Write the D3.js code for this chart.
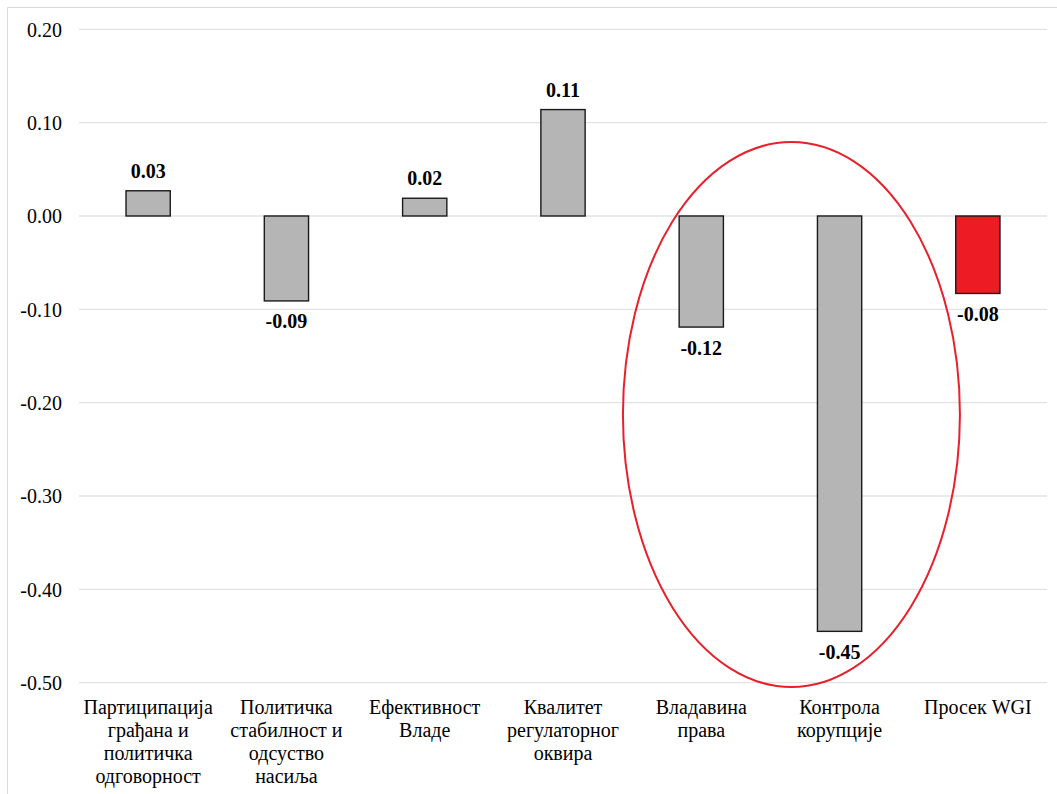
<!DOCTYPE html>
<html>
<head>
<meta charset="utf-8">
<script src="https://cdn.jsdelivr.net/npm/d3@7/dist/d3.min.js"></script>
<style>
  html, body { margin: 0; padding: 0; background: #fff; }
  svg { display: block; }
  text { font-family: "Liberation Serif", "Times New Roman", serif; fill: #000; }
</style>
</head>
<body>
<svg id="chart" width="1057" height="794"></svg>
<script>
// WGI indicator scores
const categories = [
  ["Партиципација", "грађана и", "политичка", "одговорност"],
  ["Политичка", "стабилност и", "одсуство", "насиља"],
  ["Ефективност", "Владе"],
  ["Квалитет", "регулаторног", "оквира"],
  ["Владавина", "права"],
  ["Контрола", "корупције"],
  ["Просек WGI"]
];
const values = [0.027, -0.091, 0.019, 0.114, -0.119, -0.445, -0.083];
const barColors = ["#b5b5b5", "#b5b5b5", "#b5b5b5", "#b5b5b5", "#b5b5b5", "#b5b5b5", "#ed1c24"];
const yTicks = [0.20, 0.10, 0.00, -0.10, -0.20, -0.30, -0.40, -0.50];
// indices of the bars enclosed by the highlight ellipse
const highlighted = [4, 5];

const fmt = v => d3.format(".2f")(v).replace("\u2212", "-");

const svg = d3.select("#chart");
const W = 1057, H = 794;

// outer frame
svg.append("path")
  .attr("d", `M7.5,${H} V7.5 H${W}`)
  .attr("fill", "none")
  .attr("stroke", "#d9d9d9")
  .attr("stroke-width", 1);

const plot = { left: 79, right: 1047, top: 29.3, bottom: 682.7 };

const x = d3.scaleBand()
  .domain(d3.range(categories.length))
  .range([plot.left, plot.right])
  .paddingInner(0.68)
  .paddingOuter(0.34);

const y = d3.scaleLinear()
  .domain([-0.5, 0.2])
  .range([plot.bottom, plot.top]);

// gridlines
svg.append("g")
  .selectAll("line")
  .data(yTicks)
  .join("line")
  .attr("x1", plot.left).attr("x2", plot.right)
  .attr("y1", d => y(d)).attr("y2", d => y(d))
  .attr("stroke", "#e3e3e3")
  .attr("stroke-width", 1.3);

// y axis labels
const yAxis = d3.axisLeft(y)
  .tickValues(yTicks)
  .tickFormat(fmt)
  .tickSize(0)
  .tickPadding(0);
const gy = svg.append("g")
  .attr("transform", `translate(62,0)`)
  .call(yAxis);
gy.select(".domain").remove();
gy.selectAll("text")
  .attr("font-size", 20)
  .attr("dy", "0.34em")
  .attr("fill", "#000");

// bars
svg.append("g")
  .selectAll("rect")
  .data(values)
  .join("rect")
  .attr("x", (d, i) => x(i))
  .attr("width", x.bandwidth())
  .attr("y", d => y(Math.max(0, d)))
  .attr("height", d => Math.abs(y(d) - y(0)))
  .attr("fill", (d, i) => barColors[i])
  .attr("stroke", "#1a1a1a")
  .attr("stroke-width", 1.4);

// value labels
svg.append("g")
  .selectAll("text")
  .data(values)
  .join("text")
  .attr("x", (d, i) => x(i) + x.bandwidth() / 2)
  .attr("y", d => d >= 0 ? y(d) - 13 : y(d) + 27.5)
  .attr("text-anchor", "middle")
  .attr("font-size", 20)
  .attr("font-weight", "bold")
  .text(fmt);

// category labels
const cat = svg.append("g")
  .selectAll("text")
  .data(categories)
  .join("text")
  .attr("text-anchor", "middle")
  .attr("font-size", 20)
  .attr("x", (d, i) => x(i) + x.bandwidth() / 2)
  .attr("y", plot.bottom + 31.5);
cat.selectAll("tspan")
  .data(d => d)
  .join("tspan")
  .attr("x", function () { return d3.select(this.parentNode).attr("x"); })
  .attr("dy", (d, i) => i === 0 ? 0 : 22.8)
  .text(d => d);

// highlight ellipse around the rule-of-law and corruption bars
const hx0 = x(highlighted[0]) + x.bandwidth() / 2;
const hx1 = x(highlighted[highlighted.length - 1]) + x.bandwidth() / 2;
svg.append("ellipse")
  .attr("cx", (hx0 + hx1) / 2 + 21)
  .attr("cy", 414.5)
  .attr("rx", 168.5)
  .attr("ry", 272.5)
  .attr("fill", "none")
  .attr("stroke", "#e8202a")
  .attr("stroke-width", 2);
</script>
</body>
</html>
